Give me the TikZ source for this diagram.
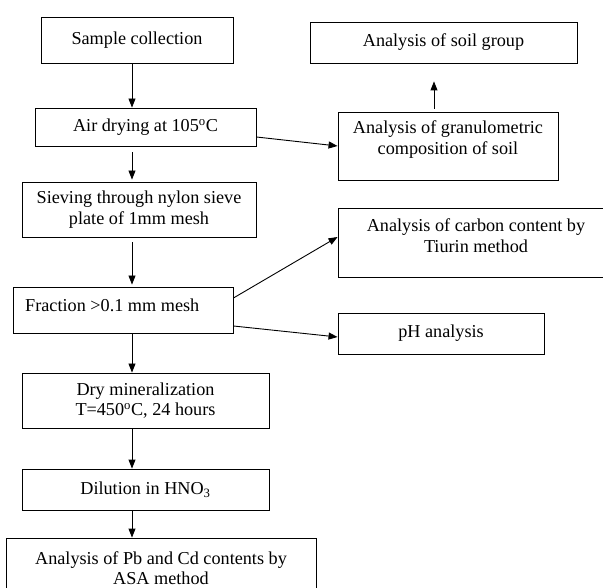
\documentclass[tikz,border=0pt]{standalone}
\usepackage{fontspec}
\setmainfont{Liberation Serif}
\usetikzlibrary{arrows.meta}
\begin{document}
\begin{tikzpicture}[x=1pt,y=-1pt,
  box/.style={draw, line width=0.9pt, inner sep=0pt, align=center, font=\fontsize{18.2}{20.5}\selectfont},
  txt/.style={inner sep=0pt, align=center, font=\fontsize{18.2}{20.5}\selectfont},
  arr/.style={line width=0.9pt, -{Triangle[length=9pt,width=7pt]}}]
\useasboundingbox (0,0) rectangle (603,588);
\clip (0,0) rectangle (603,588);
\fill[white] (0,0) rectangle (603,588);
% left column
\node[box, minimum width=192pt, minimum height=46pt] (s) at (137,40) {Sample collection};
\node[box, minimum width=221pt, minimum height=38pt] (a) at (145.5,127) {Air drying at 105\textsuperscript{o}C};
\node[box, minimum width=234pt, minimum height=55pt] (sv) at (139,209.5) {Sieving through nylon sieve\\plate of 1mm mesh};
\node[box, minimum width=220pt, minimum height=46pt] (f) at (123,310) {};
\node[txt, anchor=west] (ft) at (25,305) {Fraction >0.1 mm mesh};
\node[box, minimum width=247pt, minimum height=55pt] (d) at (145.5,400.5) {Dry mineralization\\T=450\textsuperscript{o}C, 24 hours};
\node[box, minimum width=247pt, minimum height=41pt] (dil) at (145.5,489.5) {Dilution in HNO\textsubscript{3}};
\node[box, minimum width=310pt, minimum height=62pt] (pb) at (161,569) {};
\node[txt] (pbt) at (161,568) {Analysis of Pb and Cd contents by\\ASA method};
% right column
\node[box, minimum width=267pt, minimum height=41pt] (so) at (443.5,42.5) {Analysis of soil group};
\node[box, minimum width=220pt, minimum height=68pt] (g) at (448,146) {};
\node[txt] (gt) at (448,139.5) {Analysis of granulometric\\composition of soil};
\node[box, minimum width=277pt, minimum height=69pt] (c) at (476.5,242.5) {};
\node[txt] (ct) at (476,235.5) {Analysis of carbon content by\\Tiurin method};
\node[box, minimum width=206pt, minimum height=41pt] (ph) at (441,333.5) {pH analysis};
% connectors
\coordinate (ax) at (132,0);
\coordinate (gx) at (434,0);
\draw[arr] (s.south -| ax) -- (a.north -| ax);
\draw[arr, shorten <=6pt, shorten >=2pt] (a.south -| ax) -- (sv.north -| ax);
\draw[arr, shorten <=5pt, shorten >=2pt] (sv.south -| ax) -- (f.north -| ax);
\draw[arr] (f.south -| ax) -- (d.north -| ax);
\draw[arr] (d.south -| ax) -- (dil.north -| ax);
\draw[arr] (dil.south -| ax) -- (pb.north -| ax);
\draw[arr] ([yshift=-10pt]a.east) -- (g.west);
\draw[arr, shorten <=3pt, shorten >=18pt] (g.north -| gx) -- (so.south -| gx);
\draw[arr] ([yshift=12pt]f.east) -- ([yshift=5.5pt]c.west);
\draw[arr] ([yshift=-16pt]f.east) -- ([yshift=-3.5pt]ph.west);
\end{tikzpicture}
\end{document}
